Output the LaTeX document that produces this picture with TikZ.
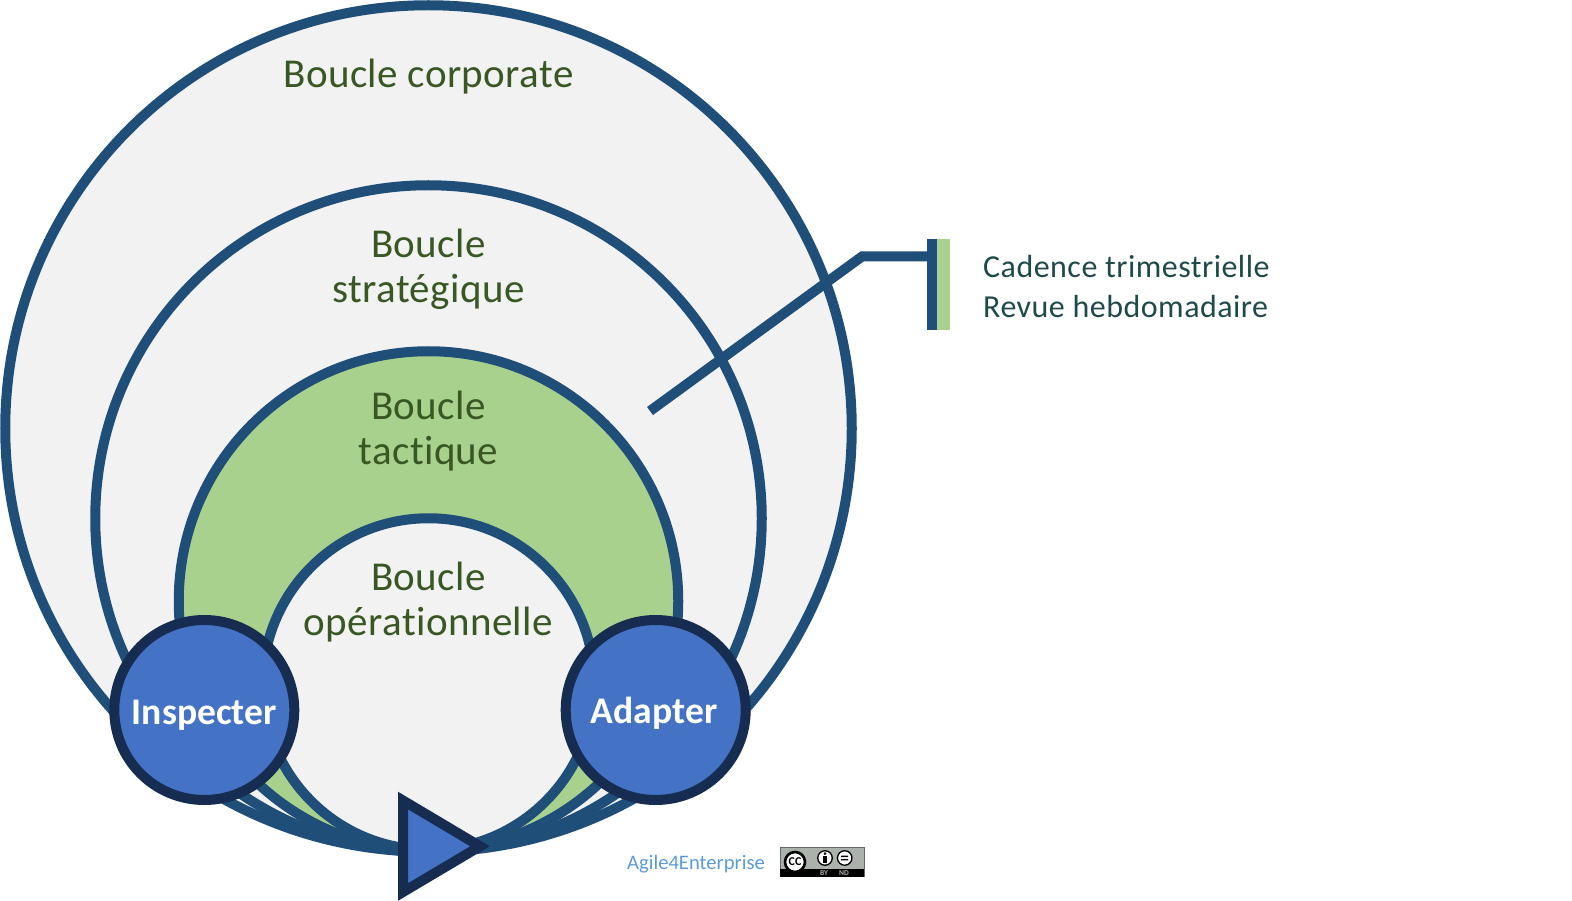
\documentclass[tikz,border=0pt]{standalone}
\usepackage{fontspec}
\setmainfont[Ligatures=NoCommon]{Carlito}
\definecolor{loopblue}{HTML}{1F4E79}
\definecolor{loopgrey}{HTML}{F2F2F2}
\definecolor{loopgreen}{HTML}{A9D18E}
\definecolor{labelgreen}{HTML}{385723}
\definecolor{nodeblue}{HTML}{4472C4}
\definecolor{nodedark}{HTML}{172C51}
\definecolor{noteteal}{HTML}{1F4A4A}
\definecolor{linkblue}{HTML}{5B9BD5}
\definecolor{ccgrey}{HTML}{AAB2AB}
\newfontfamily\spacedfont[Ligatures=NoCommon,LetterSpace=1]{Carlito}
\newfontfamily\notefont[Ligatures=NoCommon,LetterSpace=1.5]{Carlito}
\tikzset{
 loopring/.style={circle,draw=loopblue,line width=10pt,inner sep=0pt,minimum size=#1},
 looplabel/.style={text=labelgreen,font=\spacedfont\fontsize{41}{45}\selectfont,align=center,inner sep=0pt},
 phase/.style={circle,draw=nodedark,fill=nodeblue,line width=10pt,inner sep=0pt,minimum size=180pt,text=white,font=\fontsize{37.6}{43}\selectfont\bfseries},
 notetext/.style={text=noteteal,font=\notefont\fontsize{32}{40}\selectfont,align=left,inner sep=0pt},
 ccsign/.style={circle,draw=black,fill=white,line width=1.3pt,inner sep=0pt},
}
\begin{document}
\begin{tikzpicture}[x=1pt,y=-1pt]
\useasboundingbox (0,0) rectangle (1572,901);
\node[loopring=846.5pt,fill=loopgrey] (corp) at (428.5,428.5) {};
\node[loopring=666.5pt,fill=loopgrey] (strat) at (428.5,518.5) {};
\node[loopring=499.5pt,fill=loopgreen] (tact) at (428.5,601) {};
\node[loopring=331.5pt,fill=loopgrey] (oper) at (428.5,684) {};
\node[looplabel,anchor=base] (lcorp) at (428.5,87.5) {Boucle corporate};
\node[looplabel] (lstrat) at (428.5,269.5) {Boucle\\stratégique};
\node[looplabel] (ltact) at (428.5,431) {Boucle\\tactique};
\node[looplabel] (loper) at (428.5,602) {Boucle\\opérationnelle};
\node[phase] (insp) at (204.3,710) {\raisebox{-14pt}[0pt][0pt]{Inspecter}};
\node[phase] (adap) at (655.7,710) {\raisebox{-13.7pt}[0pt][0pt]{Adapter}\kern3pt};
\fill[nodeblue,draw=nodedark,line width=10pt,line join=miter,miter limit=10] (403,800.5) -- (403,892) -- (480,846.3) -- cycle;
% marker bar and its connector
\fill[loopgreen] (935,239) rectangle (950,330.5);
\fill[loopblue] (926.5,239) rectangle (936.5,330.5);
\coordinate (barmid) at (927,256.5);
\coordinate (elbow) at (862,256.5);
\coordinate (probe) at (650,411);
\draw[loopblue,line width=10pt,line join=miter] (probe) -- (elbow) -- (barmid);
\node[notetext,anchor=west] (note) at (983,286.5) {Cadence trimestrielle\\Revue hebdomadaire};
\node[anchor=base west,text=linkblue,font=\fontsize{20.6}{24}\selectfont,inner sep=0pt] (credit) at (627,869) {Agile4Enterprise};
% CC badge
\node[fill=ccgrey,draw=black!60,line width=.6pt,minimum width=84pt,minimum height=29.4pt,inner sep=0pt] (cc) at (822.3,862) {};
\fill[black] (780.3,869.3) rectangle (864.3,876.7);
\node[ccsign,minimum size=20pt,line width=2.6pt,font=\fontsize{12}{12}\selectfont\bfseries] (ccmark) at (795,862) {CC};
\node[ccsign,minimum size=14.5pt] (ccby) at (825,858) {};
\fill[black] (825,853.6) circle (1.5pt);
\fill[black] (823,855.8) rectangle (827,863);
\node[ccsign,minimum size=14.5pt] (ccnd) at (844.7,858) {};
\fill[black] (841.2,855.6) rectangle (848.2,857) (841.2,859) rectangle (848.2,860.4);
\node[text=ccgrey,font=\fontsize{7.5}{7.5}\selectfont\bfseries,inner sep=0pt] (bylabel) at (824,873) {BY};
\node[text=ccgrey,font=\fontsize{7.5}{7.5}\selectfont\bfseries,inner sep=0pt] (ndlabel) at (844,873) {ND};
\end{tikzpicture}
\end{document}
